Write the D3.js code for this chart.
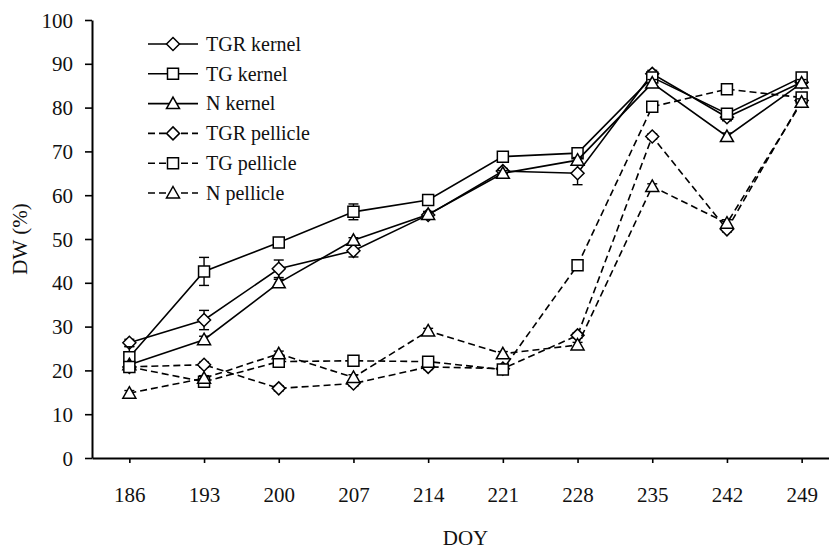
<!DOCTYPE html>
<html>
<head>
<meta charset="utf-8">
<script src="https://cdn.jsdelivr.net/npm/d3@7/dist/d3.min.js"></script>
<style>
  html, body { margin: 0; padding: 0; background: #fff; }
  svg { display: block; font-family: "Liberation Serif", "Times New Roman", serif; }
</style>
</head>
<body>
<svg id="chart" width="829" height="551"></svg>
<script>
// Day of year of each sampling
const days = [186, 193, 200, 207, 214, 221, 228, 235, 242, 249];
const yTicks = [0, 10, 20, 30, 40, 50, 60, 70, 80, 90, 100];

// Dry weight (%) per series
const tgrKernel   = [26.3, 31.5, 43.2, 47.3, 55.5, 65.5, 65.0, 87.7, 77.8, 85.8];
const tgKernel    = [23.0, 42.6, 49.2, 56.2, 58.9, 68.8, 69.6, 86.9, 78.6, 86.9];
const nKernel     = [21.3, 27.0, 40.0, 49.7, 55.6, 65.0, 68.0, 85.6, 73.4, 85.6];
const tgrPellicle = [20.8, 21.3, 15.9, 17.0, 20.8, 20.4, 28.0, 73.4, 52.2, 81.6];
const tgPellicle  = [20.8, 17.4, 22.0, 22.2, 22.0, 20.2, 44.0, 80.2, 84.2, 82.3];
const nPellicle   = [14.8, 18.2, 23.8, 18.4, 29.0, 23.8, 25.8, 62.0, 53.6, 81.2];

// Standard errors
const tgrKernelErr   = [0.8, 2.2, 2.0, 1.4, 0.8, 0.6, 2.6, 0.8, 0.8, 0.8];
const tgKernelErr    = [2.4, 3.2, 0.6, 1.8, 1.0, 0.5, 0.6, 0.6, 0.6, 0.6];
const nKernelErr     = [0.6, 0.8, 0.8, 0.6, 0.6, 0.6, 0.6, 0.8, 0.8, 0.8];
const tgrPellicleErr = [0.6, 0.6, 0.6, 0.6, 0.6, 0.6, 0.6, 0.6, 0.6, 0.8];
const tgPellicleErr  = [0.6, 0.8, 0.6, 0.6, 0.6, 0.5, 0.6, 0.6, 0.6, 0.8];
const nPellicleErr   = [0.6, 0.6, 0.6, 0.6, 0.6, 0.5, 0.6, 0.6, 0.8, 0.8];

const seriesNames = ["TGR kernel", "TG kernel", "N kernel", "TGR pellicle", "TG pellicle", "N pellicle"];
const seriesValues = [tgrKernel, tgKernel, nKernel, tgrPellicle, tgPellicle, nPellicle];
const seriesErrors = [tgrKernelErr, tgKernelErr, nKernelErr, tgrPellicleErr, tgPellicleErr, nPellicleErr];
const seriesMarkers = ["diamond", "square", "triangle", "diamond", "square", "triangle"];
const seriesDashed = [false, false, false, true, true, true];

const svg = d3.select("#chart");

const x = d3.scalePoint().domain(days).range([92, 839]).padding(0.5);
const y = d3.scaleLinear().domain([0, 100]).range([458, 20]);

// Axes
const xAxis = svg.append("g")
  .attr("transform", `translate(0,${y(0)})`)
  .call(d3.axisBottom(x).tickSizeInner(5).tickSizeOuter(0).tickPadding(24));
const yAxis = svg.append("g")
  .attr("transform", `translate(${x.range()[0]},0)`)
  .call(d3.axisLeft(y).tickValues(yTicks).tickSizeInner(7).tickSizeOuter(0).tickPadding(12));

[xAxis, yAxis].forEach(g => {
  g.select(".domain").attr("stroke", "#000").attr("stroke-width", 2);
  g.selectAll(".tick line").attr("stroke", "#000").attr("stroke-width", 1.6);
  g.selectAll(".tick text")
    .attr("fill", "#111")
    .style("font-family", "'Liberation Serif', serif")
    .style("font-size", "21px");
});
yAxis.selectAll(".tick text").attr("dy", "0.34em");

// Axis titles
svg.append("text")
  .attr("x", (x.range()[0] + x.range()[1]) / 2)
  .attr("y", 545)
  .attr("text-anchor", "middle")
  .style("font-size", "21px")
  .attr("fill", "#111")
  .text("DOY");
svg.append("text")
  .attr("transform", `translate(27,${y(50)}) rotate(-90)`)
  .attr("text-anchor", "middle")
  .style("font-size", "21px")
  .attr("fill", "#111")
  .text("DW (%)");

// Marker shapes
function markerPath(type) {
  if (type === "diamond") return "M0,-6.5L6.5,0L0,6.5L-6.5,0Z";
  if (type === "square") return "M-5.5,-5.5H5.5V5.5H-5.5Z";
  return "M0,-6.5L6.5,5L-6.5,5Z";
}

const line = d3.line()
  .x((d, i) => x(days[i]))
  .y(d => y(d));

const plot = svg.append("g");

seriesValues.forEach((vals, s) => {
  const g = plot.append("g");
  g.append("path")
    .datum(vals)
    .attr("d", line)
    .attr("fill", "none")
    .attr("stroke", "#000")
    .attr("stroke-width", 1.6)
    .attr("stroke-dasharray", seriesDashed[s] ? "7,4" : null);

  // Error bars
  const errs = seriesErrors[s];
  const eb = g.selectAll(".err").data(vals).join("g");
  eb.append("line")
    .attr("x1", (d, i) => x(days[i])).attr("x2", (d, i) => x(days[i]))
    .attr("y1", (d, i) => y(d - errs[i])).attr("y2", (d, i) => y(d + errs[i]))
    .attr("stroke", "#000").attr("stroke-width", 1.4);
  [-1, 1].forEach(sign => {
    eb.append("line")
      .attr("x1", (d, i) => x(days[i]) - 5).attr("x2", (d, i) => x(days[i]) + 5)
      .attr("y1", (d, i) => y(d + sign * errs[i])).attr("y2", (d, i) => y(d + sign * errs[i]))
      .attr("stroke", "#000").attr("stroke-width", 1.4);
  });

  g.selectAll(".mk").data(vals).join("path")
    .attr("transform", (d, i) => `translate(${x(days[i])},${y(d)})`)
    .attr("d", markerPath(seriesMarkers[s]))
    .attr("fill", "#fff")
    .attr("stroke", "#000")
    .attr("stroke-width", 1.5);
});

// Legend
const legend = svg.append("g");
seriesNames.forEach((name, s) => {
  const ly = 44 + s * 29.8;
  const row = legend.append("g").attr("transform", `translate(0,${ly})`);
  row.append("line")
    .attr("x1", 148).attr("x2", 198).attr("y1", 0).attr("y2", 0)
    .attr("stroke", "#000").attr("stroke-width", 1.6)
    .attr("stroke-dasharray", seriesDashed[s] ? "7,4" : null);
  row.append("path")
    .attr("transform", "translate(173,0)")
    .attr("d", markerPath(seriesMarkers[s]))
    .attr("fill", "#fff").attr("stroke", "#000").attr("stroke-width", 1.5);
  row.append("text")
    .attr("x", 206).attr("y", 0).attr("dy", "0.34em")
    .style("font-size", "20px").attr("fill", "#111")
    .text(name);
});
</script>
</body>
</html>
